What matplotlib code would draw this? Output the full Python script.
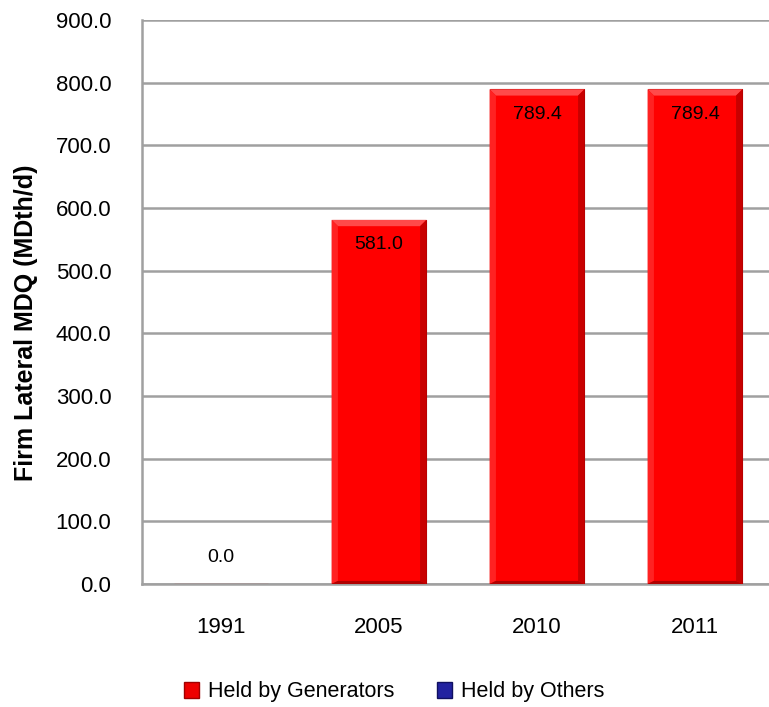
import matplotlib
matplotlib.use("Agg")
import matplotlib.pyplot as plt
from matplotlib.patches import Polygon, Rectangle

plt.rcParams['font.family'] = ['Liberation Sans', 'DejaVu Sans']

years = ["1991", "2005", "2010", "2011"]
generators = [0.0, 581.0, 789.4, 789.4]
others = [0.0, 0.0, 0.0, 0.0]
yticks = [0, 100, 200, 300, 400, 500, 600, 700, 800, 900]
series_names = ["Held by Generators", "Held by Others"]

fig = plt.figure(figsize=(7.69, 7.07), dpi=100)
ax = fig.add_axes([142/769, 123/707, 632/769, 564/707])

x = list(range(len(years)))
bars = ax.bar(x, generators, width=0.6, color="#FF0000", edgecolor="#B00000", linewidth=0.8, zorder=3)
ax.bar(x, others, width=0.6, bottom=generators, color="#2222A0", zorder=3)

# bevel effect
bx, by = 0.04, 10.0
for b in bars:
    h = b.get_height()
    if h <= 0:
        continue
    x0, w = b.get_x(), b.get_width()
    x1 = x0 + w
    top = h
    ax.add_patch(Polygon([(x0, top), (x1, top), (x1 - bx, top - by), (x0 + bx, top - by)],
                         closed=True, facecolor="#FF4A4A", edgecolor="none", zorder=4))
    ax.add_patch(Polygon([(x0, 0), (x0, top), (x0 + bx, top - by), (x0 + bx, by * 0.5)],
                         closed=True, facecolor="#FF2222", edgecolor="none", zorder=4))
    ax.add_patch(Polygon([(x1, 0), (x1, top), (x1 - bx, top - by), (x1 - bx, by * 0.5)],
                         closed=True, facecolor="#C80000", edgecolor="none", zorder=4))
    ax.add_patch(Polygon([(x0, 0), (x1, 0), (x1 - bx, by * 0.5), (x0 + bx, by * 0.5)],
                         closed=True, facecolor="#B00000", edgecolor="none", zorder=4))

for xi, v in zip(x, generators):
    ypos = v - 40 if v > 0 else v + 43
    ax.text(xi, ypos, f"{v:.1f}", ha="center", va="center", fontsize=14, zorder=5)

ax.set_xlim(-0.5, 3.5)
ax.set_ylim(0, 900)
ax.set_yticks(yticks)
ax.set_yticklabels([f"{t:.1f}" for t in yticks], fontsize=16)
ax.set_xticks(x)
ax.set_xticklabels(years, fontsize=16)
ax.tick_params(axis='y', length=0, pad=22)
ax.tick_params(axis='x', length=0, pad=24)
ax.yaxis.grid(True, color="#A0A0A0", linewidth=1.8, zorder=0)
ax.set_axisbelow(True)
for s in ["top", "right"]:
    ax.spines[s].set_visible(False)
for s in ["left", "bottom"]:
    ax.spines[s].set_color("#A0A0A0")
    ax.spines[s].set_linewidth(1.8)

ax.set_ylabel("Firm Lateral MDQ (MDth/d)", fontsize=18, fontweight="bold")
ax.yaxis.set_label_coords((-142 + 38) / 632, (584 - 323) / 564)

handles = [Rectangle((0, 0), 1, 1, facecolor="#EE0000", edgecolor="#A00000"),
           Rectangle((0, 0), 1, 1, facecolor="#2222A0", edgecolor="#101060")]
fig.legend(handles, series_names, loc="center", bbox_to_anchor=(394/769, 1 - 692/707),
           ncol=2, frameon=False, fontsize=15.5, handlelength=0.7, handleheight=0.7,
           handletextpad=0.4, columnspacing=2.0)

fig.savefig("out.png", dpi=100)
